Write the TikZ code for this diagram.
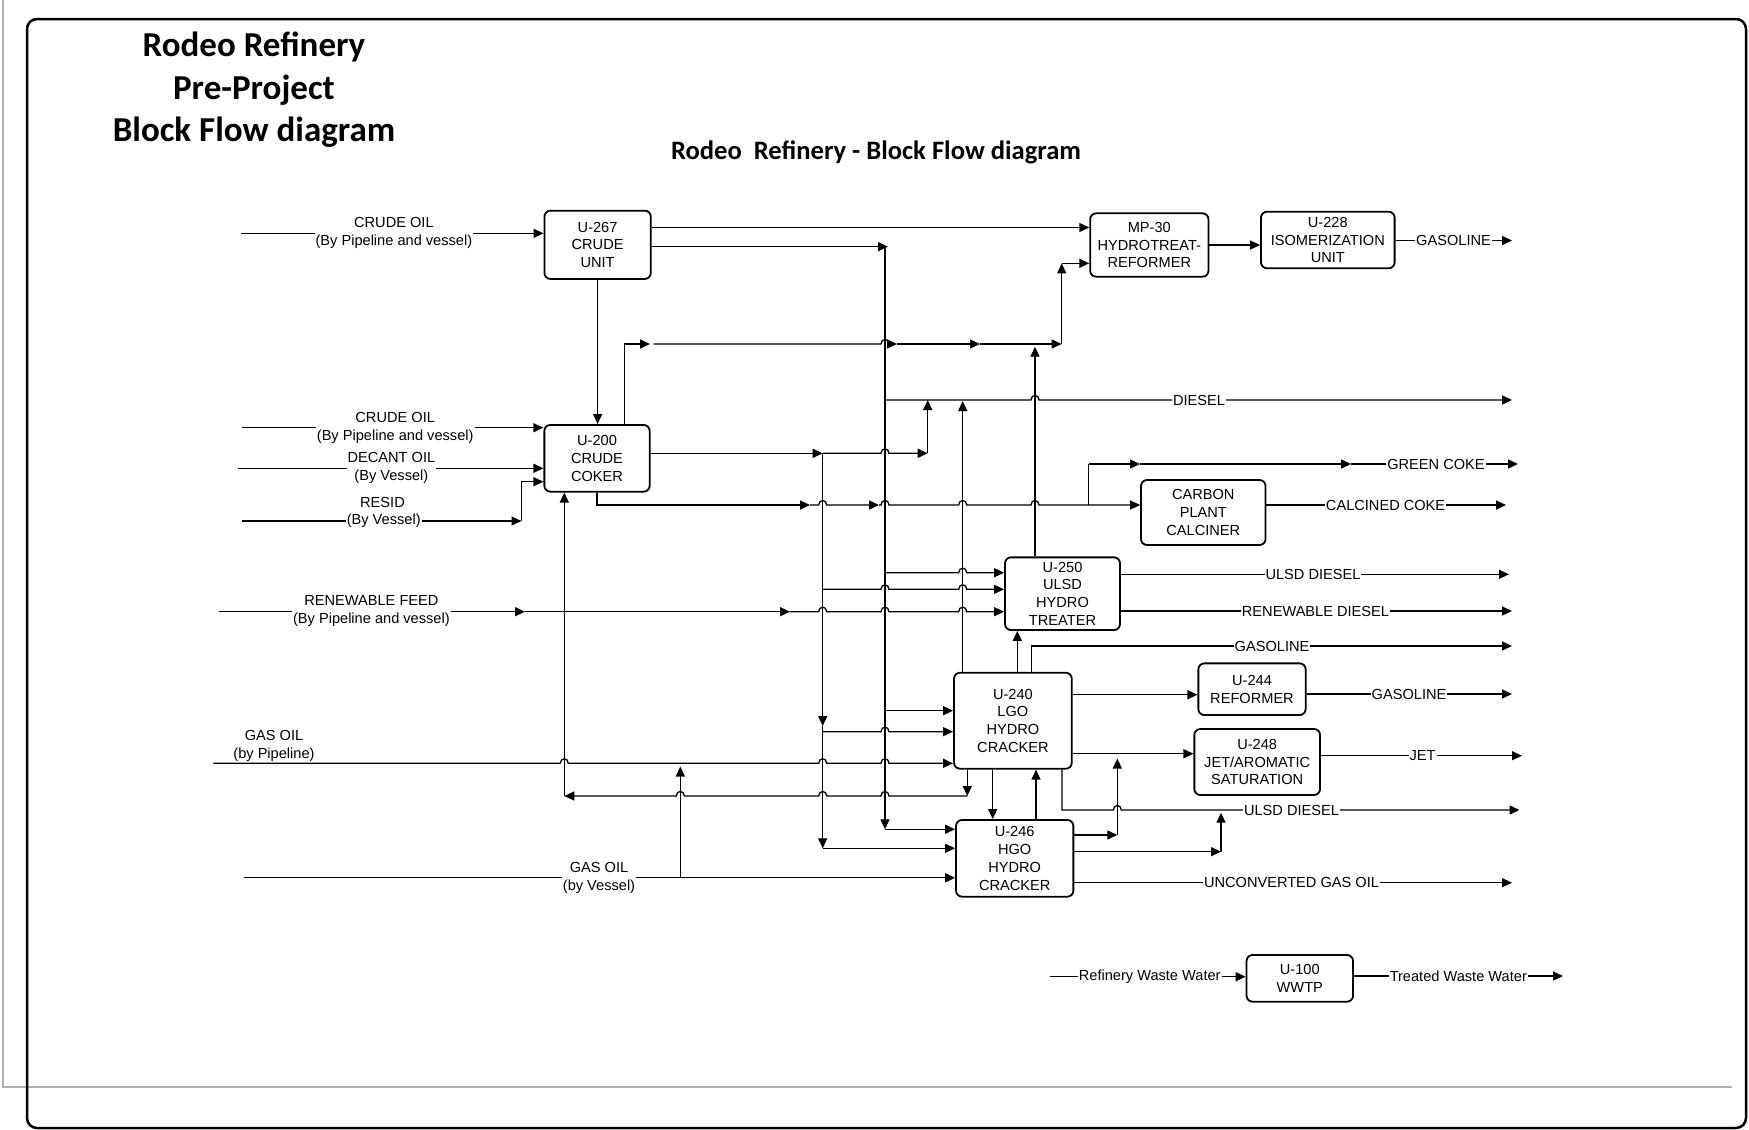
\documentclass[tikz,border=0pt]{standalone}
\usepackage{fontspec}
\setmainfont{Liberation Sans}
\newfontfamily\ttlfont{Carlito}
\usetikzlibrary{arrows.meta}
\newcommand{\labfont}{\fontsize{14.6}{17.8}\selectfont}
\begin{document}
\begin{tikzpicture}[x=1pt,y=-1pt,
  ln/.style={line width=1.3pt},
  arr/.style={ln,-{Triangle[length=10pt,width=9pt]}},
  rarr/.style={ln,{Triangle[length=10pt,width=9pt]}-},
  box/.style={draw,line width=1.8pt,rounded corners=6pt,align=center,font=\labfont,inner sep=0pt},
  lbl/.style={fill=white,font=\labfont,align=center,inner xsep=1pt,inner ysep=0pt},
  txt/.style={font=\labfont,align=center,inner sep=0pt},
  hp/.style args={#1,#2}{insert path={-- ({#1-4},#2) .. controls ({#1-4},{#2-6}) and ({#1+4},{#2-6}) .. ({#1+4},#2)}},
]
\useasboundingbox (0,0) rectangle (1749,1130);
% frame
\draw[gray!60,line width=2pt] (3,0) -- (3,1087) -- (1732,1087);
\draw[line width=2.5pt,rounded corners=10pt] (27,19) rectangle (1746,1128);
% titles
\node[anchor=base,font=\ttlfont\bfseries\fontsize{35}{40}\selectfont] (t1) at (254,56.5) {Rodeo Refinery};
\node[anchor=base,font=\ttlfont\bfseries\fontsize{35}{40}\selectfont] (t2) at (254,99) {Pre-Project};
\node[anchor=base,font=\ttlfont\bfseries\fontsize{35}{40}\selectfont] (t3) at (254,141.5) {Block Flow diagram};
\node[anchor=base,font=\ttlfont\bfseries\fontsize{26.6}{30}\selectfont] (st) at (876,159) {Rodeo\ \ Refinery - Block Flow diagram};

% boxes
\node[box,minimum width=106.4,minimum height=68.3] (U267) at (597.6,244.8) {U-267\\CRUDE\\UNIT};
\node[box,minimum width=105.3,minimum height=66.7] (U200) at (597,458.3) {U-200\\CRUDE\\COKER};
\node[box,minimum width=118.3,minimum height=63.4] (MP30) at (1149.3,245) {MP-30\\HYDROTREAT-\\REFORMER};
\node[box,minimum width=133.6,minimum height=56.6] (U228) at (1327.8,240) {U-228\\ISOMERIZATION\\UNIT};
\node[box,minimum width=124.5,minimum height=65] (CPC) at (1203.3,512.5) {CARBON\\PLANT\\CALCINER};
\node[box,minimum width=115,minimum height=72.7] (U250) at (1062.5,593.7) {U-250\\ULSD\\HYDRO\\TREATER};
\node[box,minimum width=117.8,minimum height=96] (U240) at (1012.9,720.7) {U-240\\LGO\\HYDRO\\CRACKER};
\node[box,minimum width=117.3,minimum height=76.7] (U246) at (1014.7,858.3) {U-246\\HGO\\HYDRO\\CRACKER};
\node[box,minimum width=107.3,minimum height=51.7] (U244) at (1252,689.2) {U-244\\REFORMER};
\node[box,minimum width=125.7,minimum height=66] (U248) at (1257.2,762) {U-248\\JET/AROMATIC\\SATURATION};
\node[box,minimum width=106.5,minimum height=46.7] (U100) at (1299.8,978.3) {U-100\\WWTP};

% coordinates
\coordinate (in1) at (241.3,233.3);
\coordinate (in2) at (242,427.7);
\coordinate (in3) at (238.3,468.3);
\coordinate (in4) at (242,521);
\coordinate (rs1) at (521.5,521);
\coordinate (rs2) at (521.5,481.7);
\coordinate (in5) at (219,611.7);
\coordinate (in6) at (213.4,763.3);
\coordinate (in7) at (244,877.8);
\coordinate (in8) at (1050,976.7);
\coordinate (a1) at (700,227.5);
\coordinate (r6a) at (624.3,344);
\coordinate (r6b) at (1061.7,344);
\coordinate (r6c) at (1061.7,263.3);
\coordinate (r250) at (1035,346.7);
\coordinate (t1) at (885,246.7);
\coordinate (t1b) at (885,829.3);
\coordinate (d0) at (885,400);
\coordinate (dE) at (1512,400);
\coordinate (b1) at (885,572.7);
\coordinate (b2) at (885,710.7);
\coordinate (t2) at (822.7,453.3);
\coordinate (t2m) at (822.7,726);
\coordinate (t2b) at (822.7,848.3);
\coordinate (b3) at (822.7,589.3);
\coordinate (b4) at (822.7,731.7);
\coordinate (m1) at (927.7,453.3);
\coordinate (m1t) at (927.7,400);
\coordinate (r240) at (962.7,401);
\coordinate (c0) at (597,505);
\coordinate (c1) at (1088.6,505);
\coordinate (g1) at (1088.6,464);
\coordinate (gE) at (1518,464);
\coordinate (ccE) at (1506,505);
\coordinate (gv) at (680.3,877.8);
\coordinate (gvt) at (680.3,766.5);
\coordinate (l1) at (967.3,796);
\coordinate (l2) at (564.3,796);
\coordinate (u1E) at (1509,574.3);
\coordinate (u2E) at (1512,611);
\coordinate (v240) at (1017.3,630);
\coordinate (gs1) at (1031.4,646);
\coordinate (gs1E) at (1512,646);
\coordinate (y244) at (1120,694.7);
\coordinate (g2E) at (1512,694);
\coordinate (y248) at (1150,753.7);
\coordinate (jE) at (1522,755.7);
\coordinate (ul1) at (1062,810);
\coordinate (ulE) at (1519.5,810);
\coordinate (d240) at (992.7,800);
\coordinate (u246) at (1036,800);
\coordinate (h1) at (1117.3,835);
\coordinate (h1t) at (1117.3,758.5);
\coordinate (h2) at (1221,851.7);
\coordinate (h2t) at (1221,812.7);
\coordinate (unE) at (1512,882.7);
\coordinate (gtE) at (1512,240.5);
\coordinate (trE) at (1563,976);

% feeds
\draw[arr] (in1) -- (in1 -| U267.west);
\draw[arr] (in2) -- (in2 -| U200.west);
\draw[arr] (in3) -- (in3 -| U200.west);
\draw[arr] (in4) -- (rs1);
\draw[arr] (rs1) -- (rs2) -- (rs2 -| U200.west);
\draw[arr] (in5) -- (525,611.7);
\draw[arr] (525,611.7) -- (790,611.7);
\draw[arr] (790,611.7) [hp={822.7,611.7}] [hp={885,611.7}] [hp={962.7,611.7}] -- (in5 -| U250.west);
\draw[arr] (in6) [hp={564.3,763.3}] [hp={822.7,763.3}] [hp={885,763.3}] -- (in6 -| U240.west);
\draw[arr] (in7) -- (in7 -| U246.west);
\draw[arr] (gv) -- (gvt);

% top section
\draw[arr] (a1 -| U267.east) -- (a1 -| MP30.west);
\draw[arr] (MP30.east) -- (MP30.east -| U228.west);
\draw[arr] (gtE -| U228.east) -- (gtE);
\draw[arr] (U267.south) -- (U267.south |- U200.north);
\draw[arr] (r6a |- U200.north) -- (r6a) -- (650,344);
\draw[arr] (653.5,344) [hp={885,344}] -- (897,344);
\draw[arr] (897,344) -- (980,344);
\draw[arr] (980,344) -- (r6b);
\draw[arr] (r6b) -- (r6c);
\draw[arr] (r6c) -- (r6c -| MP30.west);
\draw[arr] (r250 |- U250.north) -- (r250);

% trunk 1
\draw[arr] (t1 -| U267.east) -- (888,246.7);
\draw[arr] (t1) -- (t1b);
\draw[arr] (t1b) -- (t1b -| U246.west);
\draw[arr] (d0) [hp={1035,400}] -- (dE);
\draw[arr] (b1) [hp={962.7,572.7}] -- (b1 -| U250.west);
\draw[arr] (b2) -- (b2 -| U240.west);

% trunk 2
\draw[arr] (t2 -| U200.east) -- (t2);
\draw[arr] (t2) [hp={885,453.3}] -- (m1);
\draw[arr] (m1) -- (m1t);
\draw[arr] (t2) -- (t2m);
\draw[arr] (t2m) -- (t2b);
\draw[arr] (t2b) -- (t2b -| U246.west);
\draw[arr] (b3) [hp={885,589.3}] [hp={962.7,589.3}] -- (b3 -| U250.west);
\draw[arr] (b4) [hp={885,731.7}] -- (b4 -| U240.west);

% coker bottom
\draw[arr] (U200.south) -- (c0) -- (810,505);
\draw[arr] (810,505) [hp={822.7,505}] -- (879,505);
\draw[arr] (879,505) [hp={885,505}] [hp={962.7,505}] [hp={1035,505}] -- (c1 -| CPC.west);
\draw[ln] (c1) -- (g1);
\draw[arr] (g1) -- (1140,464);
\draw[arr] (1140,464) -- (1351,464);
\draw[arr] (1351,464) -- (gE);
\draw[arr] (ccE -| CPC.east) -- (ccE);

% U-240 / U-246 region
\draw[arr] (r240 |- U240.north) -- (r240);
\draw[arr] (l1 |- U240.south) -- (l1);
\draw[rarr] (l2) [hp={680.3,796}] [hp={822.7,796}] [hp={885,796}] -- (l1);
\draw[arr] (l2) -- (l2 |- U200.south);
\draw[arr] (v240 |- U240.north) -- (v240 |- U250.south);
\draw[arr] (gs1 |- U240.north) -- (gs1) -- (gs1E);
\draw[arr] (y244 -| U240.east) -- (y244 -| U244.west);
\draw[arr] (g2E -| U244.east) -- (g2E);
\draw[arr] (y248 -| U240.east) -- (y248 -| U248.west);
\draw[arr] (jE -| U248.east) -- (jE);
\draw[arr] (ul1 |- U240.south) -- (ul1) [hp={1117.3,810}] -- (ulE);
\draw[arr] (d240 |- U240.south) -- (d240 |- U246.north);
\draw[arr] (u246 |- U246.north) -- (u246 |- U240.south);
\draw[arr] (h1 -| U246.east) -- (h1);
\draw[arr] (h1) -- (h1t);
\draw[arr] (h2 -| U246.east) -- (h2);
\draw[arr] (h2) -- (h2t);
\draw[arr] (unE -| U246.east) -- (unE);
\draw[arr] (u1E -| U250.east) -- (u1E);
\draw[arr] (u2E -| U250.east) -- (u2E);

% waste water
\draw[arr] (in8) -- (in8 -| U100.west);
\draw[arr] (trE -| U100.east) -- (trE);

% labels
\node[lbl] (L1) at (393.9,233.3) {CRUDE OIL\\(By Pipeline and vessel)};
\node[lbl] (L2) at (395.2,427.7) {CRUDE OIL\\(By Pipeline and vessel)};
\node[lbl] (L3) at (391.4,468.3) {DECANT OIL\\(By Vessel)};
\node[lbl] (L4) at (383.7,521) {(By Vessel)};
\node[txt] (L4b) at (382.5,502) {RESID};
\node[lbl] (L5) at (371.4,611.2) {RENEWABLE FEED\\(By Pipeline and vessel)};
\node[txt] (L6) at (274,746) {GAS OIL\\(by Pipeline)};
\node[lbl] (L7) at (599,877.8) {GAS OIL\\(by Vessel)};
\node[lbl] (L8) at (1453.5,240.5) {GASOLINE};
\node[lbl] (L9) at (1199,400) {DIESEL};
\node[lbl] (L10) at (1436,464) {GREEN COKE};
\node[lbl] (L11) at (1385.6,505) {CALCINED COKE};
\node[lbl] (L12) at (1313,574.3) {ULSD DIESEL};
\node[lbl] (L13) at (1315.5,611) {RENEWABLE DIESEL};
\node[lbl] (L14) at (1272,646) {GASOLINE};
\node[lbl] (L15) at (1409,694) {GASOLINE};
\node[lbl] (L16) at (1422.6,755.7) {JET};
\node[lbl] (L17) at (1291.5,810) {ULSD DIESEL};
\node[lbl] (L18) at (1291.5,882.7) {UNCONVERTED GAS OIL};
\node[lbl] (L19) at (1149.7,976.7) {Refinery Waste Water};
\node[lbl] (L20) at (1458.3,976) {Treated Waste Water};
\end{tikzpicture}
\end{document}
